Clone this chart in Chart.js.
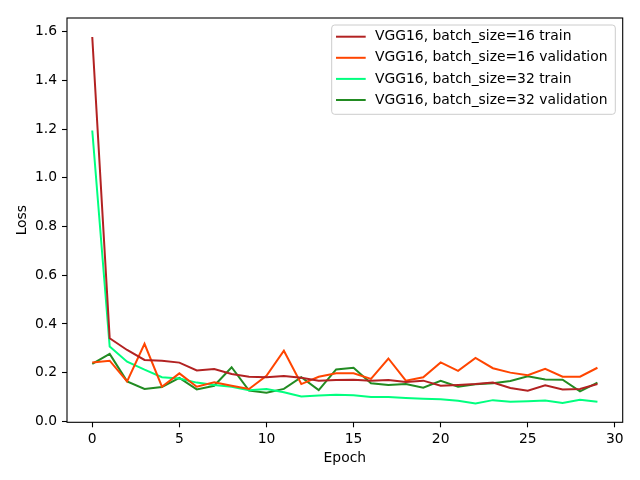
<!DOCTYPE html>
<html>
<head>
<meta charset="utf-8">
<script src="https://cdn.jsdelivr.net/npm/chart.js@4"></script>
<style>
html,body{margin:0;padding:0;background:#fff;}
canvas{display:block;}
</style>
</head>
<body>
<canvas id="c" width="640" height="480"></canvas>
<script>
const epochs = Array.from({length:30}, (_, i) => i);
const train16 = [1.578,0.341,0.293,0.252,0.249,0.241,0.209,0.215,0.194,0.183,0.181,0.186,0.179,0.167,0.170,0.171,0.167,0.170,0.161,0.167,0.146,0.149,0.153,0.159,0.137,0.126,0.148,0.131,0.133,0.153];
const val16 = [0.242,0.249,0.164,0.318,0.142,0.197,0.142,0.160,0.146,0.133,0.187,0.290,0.153,0.183,0.197,0.197,0.174,0.258,0.167,0.181,0.242,0.207,0.260,0.218,0.200,0.189,0.216,0.183,0.183,0.220];
const train32 = [1.194,0.307,0.245,0.212,0.181,0.176,0.159,0.149,0.142,0.128,0.133,0.119,0.102,0.106,0.109,0.107,0.100,0.100,0.096,0.093,0.091,0.084,0.073,0.087,0.080,0.082,0.085,0.075,0.089,0.080];
const val32 = [0.236,0.277,0.164,0.133,0.141,0.178,0.131,0.146,0.222,0.126,0.117,0.133,0.181,0.128,0.213,0.220,0.156,0.149,0.153,0.138,0.166,0.142,0.152,0.156,0.166,0.185,0.172,0.171,0.123,0.159];
const seriesLabels = ["VGG16, batch_size=16 train","VGG16, batch_size=16 validation","VGG16, batch_size=32 train","VGG16, batch_size=32 validation"];
const seriesColors = ["#b22222","#ff4500","#00ff7f","#228b22"];
const xTicks = [0,5,10,15,20,25,30];
const yTicks = [0,0.2,0.4,0.6,0.8,1.0,1.2,1.4,1.6];

const FONT = "DejaVu Sans";
const FS = 13.89;
const seriesValues = [train16, val16, train32, val32];

const datasets = seriesValues.map((vals, k) => ({
  label: seriesLabels[k],
  data: vals.map((v, i) => ({x: epochs[i], y: v})),
  borderColor: seriesColors[k],
  backgroundColor: seriesColors[k],
  borderWidth: 2,
  pointRadius: 0,
  tension: 0,
  fill: false
}));

const framePlugin = {
  id: 'frame',
  afterDraw(chart) {
    const {ctx, chartArea: a} = chart;
    ctx.save();
    ctx.strokeStyle = '#000';
    ctx.lineWidth = 1.1;
    ctx.strokeRect(a.left, a.top, a.right - a.left, a.bottom - a.top);
    // legend
    const bx = a.right - 291, by = a.top + 7, bw = 283.6, bh = 89.3;
    ctx.beginPath();
    const r = 3;
    ctx.moveTo(bx + r, by);
    ctx.lineTo(bx + bw - r, by);
    ctx.quadraticCurveTo(bx + bw, by, bx + bw, by + r);
    ctx.lineTo(bx + bw, by + bh - r);
    ctx.quadraticCurveTo(bx + bw, by + bh, bx + bw - r, by + bh);
    ctx.lineTo(bx + r, by + bh);
    ctx.quadraticCurveTo(bx, by + bh, bx, by + bh - r);
    ctx.lineTo(bx, by + r);
    ctx.quadraticCurveTo(bx, by, bx + r, by);
    ctx.closePath();
    ctx.fillStyle = 'rgba(255,255,255,0.8)';
    ctx.fill();
    ctx.strokeStyle = '#cccccc';
    ctx.lineWidth = 1;
    ctx.stroke();
    ctx.font = FS + 'px "' + FONT + '"';
    ctx.textBaseline = 'middle';
    ctx.textAlign = 'left';
    chart.data.datasets.forEach((ds, k) => {
      const yy = by + 11.7 + k * 21.1;
      ctx.strokeStyle = ds.borderColor;
      ctx.lineWidth = 2;
      ctx.beginPath();
      ctx.moveTo(bx + 4.3, yy);
      ctx.lineTo(bx + 34, yy);
      ctx.stroke();
      ctx.fillStyle = '#000';
      ctx.fillText(ds.label, bx + 43.3, yy);
    });
    ctx.restore();
  }
};

new Chart(document.getElementById('c'), {
  type: 'line',
  data: { datasets },
  options: {
    responsive: false,
    animation: false,
    devicePixelRatio: 1,
    layout: { padding: { top: 18, right: 17.3, left: 0, bottom: 0 } },
    plugins: { legend: { display: false }, tooltip: { enabled: false } },
    scales: {
      x: {
        type: 'linear',
        min: -1.45, max: 30.45,
        afterBuildTicks: s => { s.ticks = xTicks.map(v => ({value: v})); },
        afterFit: s => { s.height = 57.7; },
        ticks: { color: '#000', font: { family: FONT, size: FS }, padding: 4, maxRotation: 0, autoSkip: false,
                 callback: v => String(v) },
        grid: { display: true, drawOnChartArea: false, drawTicks: true, tickLength: 5, tickColor: '#000', tickWidth: 1.1 },
        border: { display: false },
        title: { display: true, text: 'Epoch', color: '#000', font: { family: FONT, size: FS }, padding: { top: 0, bottom: 13 } }
      },
      y: {
        type: 'linear',
        min: -0.004, max: 1.656,
        afterBuildTicks: s => { s.ticks = yTicks.map(v => ({value: v})); },
        afterFit: s => { s.width = 67; },
        ticks: { color: '#000', font: { family: FONT, size: FS }, padding: 5, autoSkip: false,
                 callback: v => Number(v).toFixed(1) },
        grid: { display: true, drawOnChartArea: false, drawTicks: true, tickLength: 5, tickColor: '#000', tickWidth: 1.1 },
        border: { display: false },
        title: { display: true, text: 'Loss', color: '#000', font: { family: FONT, size: FS }, padding: { top: 14, bottom: 0 } }
      }
    }
  },
  plugins: [framePlugin]
});
</script>
</body>
</html>
